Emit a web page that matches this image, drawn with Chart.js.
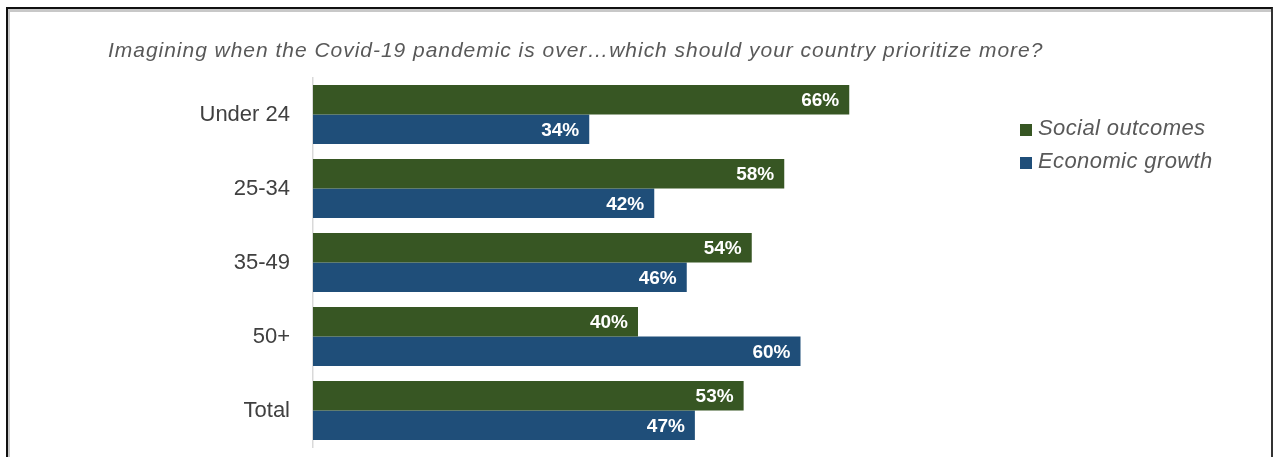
<!DOCTYPE html>
<html>
<head>
<meta charset="utf-8">
<script src="https://cdn.jsdelivr.net/npm/chart.js@4.4.0/dist/chart.umd.min.js"></script>
<style>
  html, body { margin: 0; padding: 0; background: #fff; }
  #wrap { position: relative; width: 1273px; height: 457px; overflow: hidden; }
  #frame { position: absolute; left: 6px; top: 7px; width: 1263px; height: 470px;
           border-top: 2px solid #111; border-left: 2px solid #111; border-right: 2px solid #333;
           box-shadow: inset 2px 3px 0 #c8c8c8; pointer-events: none; }
  canvas { position: absolute; left: 0; top: 0; }
</style>
</head>
<body>
<div id="wrap">
  <canvas id="c" width="1273" height="457"></canvas>
  <div id="frame"></div>
</div>
<script>
const titleText = "Imagining when the Covid-19 pandemic is over\u2026which should your country prioritize more?";
const categories = ["Under 24", "25-34", "35-49", "50+", "Total"];
const seriesNames = ["Social outcomes", "Economic growth"];
const socialOutcomes = [66, 58, 54, 40, 53];
const economicGrowth = [34, 42, 46, 60, 47];
const seriesColors = ["#375623", "#1F4E79"];

const labelPlugin = {
  id: 'barLabels',
  afterDatasetsDraw(chart) {
    const ctx = chart.ctx;
    ctx.save();
    ctx.font = "bold 19px 'Liberation Sans', Arial, sans-serif";
    ctx.fillStyle = "#ffffff";
    ctx.textAlign = "right";
    ctx.textBaseline = "middle";
    chart.data.datasets.forEach((ds, di) => {
      const meta = chart.getDatasetMeta(di);
      meta.data.forEach((el, i) => {
        ctx.fillText(ds.data[i] + "%", el.x - 10, el.y + 1);
      });
    });
    ctx.restore();
  }
};

const decorPlugin = {
  id: 'decor',
  afterDraw(chart) {
    const ctx = chart.ctx;
    ctx.save();
    // title
    ctx.font = "italic 21px 'Liberation Sans', Arial, sans-serif";
    try { ctx.letterSpacing = "0.97px"; } catch (e) {}
    ctx.fillStyle = "#595959";
    ctx.textAlign = "left";
    ctx.textBaseline = "alphabetic";
    ctx.fillText(titleText, 108, 57);
    // legend
    ctx.font = "italic 22px 'Liberation Sans', Arial, sans-serif";
    try { ctx.letterSpacing = "0.4px"; } catch (e) {}
    ctx.textBaseline = "middle";
    chart.data.datasets.forEach((ds, i) => {
      const cy = 129 + i * 33;
      ctx.fillStyle = ds.backgroundColor;
      ctx.fillRect(1020, cy - 5, 12, 12);
      ctx.fillStyle = "#595959";
      ctx.fillText(ds.label, 1038, cy);
    });
    ctx.restore();
  }
};

new Chart(document.getElementById('c'), {
  type: 'bar',
  data: {
    labels: categories,
    datasets: [
      { label: seriesNames[0], data: socialOutcomes, backgroundColor: seriesColors[0] },
      { label: seriesNames[1], data: economicGrowth, backgroundColor: seriesColors[1] }
    ]
  },
  options: {
    indexAxis: 'y',
    responsive: false,
    animation: false,
    devicePixelRatio: 1,
    categoryPercentage: 0.8,
    barPercentage: 1.0,
    layout: { padding: { left: 0, right: 310, top: 77.5, bottom: 9.5 } },
    plugins: { legend: { display: false }, title: { display: false }, tooltip: { enabled: false } },
    scales: {
      x: { display: false, min: 0, max: 80 },
      y: {
        afterFit(scale) { scale.width = 313; scale.paddingTop = 0; scale.paddingBottom = 0; },
        grid: { display: false },
        border: { display: true, color: '#d9d9d9', width: 1.5 },
        ticks: { color: '#404040', padding: 15, font: { family: "'Liberation Sans', Arial, sans-serif", size: 22 } }
      }
    }
  },
  plugins: [labelPlugin, decorPlugin]
});
</script>
</body>
</html>
